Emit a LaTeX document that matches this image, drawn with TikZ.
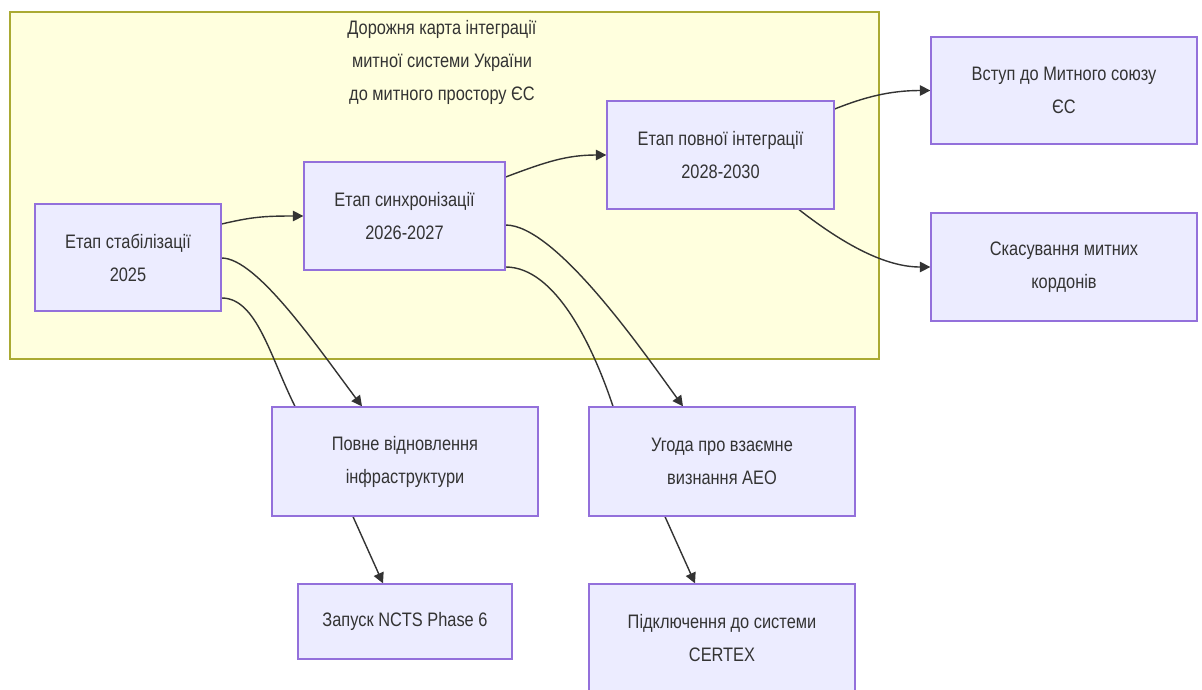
\documentclass[tikz,border=0pt]{standalone}
\usepackage{fontspec}
\setmainfont{Liberation Sans}[FakeStretch=0.84]
\usetikzlibrary{arrows.meta,calc}
\definecolor{cardfill}{HTML}{ECECFF}
\definecolor{cardline}{HTML}{9370DB}
\definecolor{grpfill}{HTML}{FFFFDE}
\definecolor{grpline}{HTML}{AAAA33}
\definecolor{ink}{HTML}{333333}
\pgfdeclarelayer{bg}
\pgfdeclarelayer{edges}
\pgfsetlayers{bg,edges,main}
\tikzset{
  txt/.style={text=ink, align=center, font=\fontsize{19.5}{33}\selectfont},
  card/.style={txt, draw=cardline, fill=cardfill, line width=1.3pt, inner sep=0pt},
  link/.style={draw=ink, line width=1.4pt, -{Triangle[length=10.5pt,width=10.5pt]}},
}
\begin{document}
\begin{tikzpicture}[x=1pt,y=-1pt]
\useasboundingbox (0,0) rectangle (1202,689);

% page and roadmap group
\begin{pgfonlayer}{bg}
  \fill[white] (0,0) rectangle (1202,689);
  \draw[fill=grpfill, draw=grpline, line width=1.3pt] (10,12) rectangle (879,359);
\end{pgfonlayer}
\node[txt] (title) at (442,62) {Дорожня карта інтеграції\\митної системи України\\до митного простору ЄС};

% stages
\node[card, minimum width=186pt, minimum height=107pt] (stab)  at (128,257.5) {Етап стабілізації\\2025};
\node[card, minimum width=201pt, minimum height=108pt] (synch) at (404.5,216) {Етап синхронізації\\2026-2027};
\node[card, minimum width=227pt, minimum height=108pt] (full)  at (720.5,155) {Етап повної інтеграції\\2028-2030};

% outcomes
\node[card, minimum width=266pt, minimum height=107pt] (vstup)  at (1064,90.5) {Вступ до Митного союзу\\ЄС};
\node[card, minimum width=266pt, minimum height=108pt] (skas)   at (1064,267)  {Скасування митних\\кордонів};
\node[card, minimum width=266pt, minimum height=109pt] (povne)  at (405,461.5)  {Повне відновлення\\інфраструктури};
\node[card, minimum width=266pt, minimum height=109pt] (aeo)    at (722,461.5)  {Угода про взаємне\\визнання AEO};
\node[card, minimum width=214pt, minimum height=75pt]  (ncts)   at (405,621.5)  {Запуск NCTS Phase 6};
\node[card, minimum width=266pt, minimum height=108pt] (certex) at (722,638)    {Підключення до системи\\CERTEX};

% connectors (drawn beneath the boxes, so the long ones pass behind)
\begin{pgfonlayer}{edges}
  \draw[link] ($(stab.east)+(0,-33.5)$) .. controls +(30,-7) and +(-40,0) .. (synch.west);
  \draw[link] ($(stab.east)+(0,0.5)$) .. controls +(35,0) and +(-45,-60) .. ($(povne.north)+(-43,0)$);
  \draw[link] ($(stab.east)+(0,40.5)$) .. controls +(35,0) and +(-25,-50) .. ($(povne.north)+(-110,0)$)
              -- ($(povne.south)+(-52,0)$) -- ($(ncts.north)+(-22,0)$);

  \draw[link] ($(synch.east)+(0,-39)$) .. controls +(40,-15) and +(-40,0) .. (full.west);
  \draw[link] ($(synch.east)+(0,9)$) .. controls +(50,0) and +(-40,-55) .. ($(aeo.north)+(-39,0)$);
  \draw[link] ($(synch.east)+(0,51)$) .. controls +(50,0) and +(-20,-60) .. ($(aeo.north)+(-109,0)$)
              -- ($(aeo.south)+(-57,0)$) -- ($(certex.north)+(-27,0)$);

  \draw[link] ($(full.east)+(0,-46)$) .. controls +(30,-12) and +(-40,0) .. (vstup.west);
  \draw[link] ($(full.south)+(78.5,0)$) .. controls +(45,35) and +(-45,0) .. (skas.west);
\end{pgfonlayer}
\end{tikzpicture}
\end{document}
